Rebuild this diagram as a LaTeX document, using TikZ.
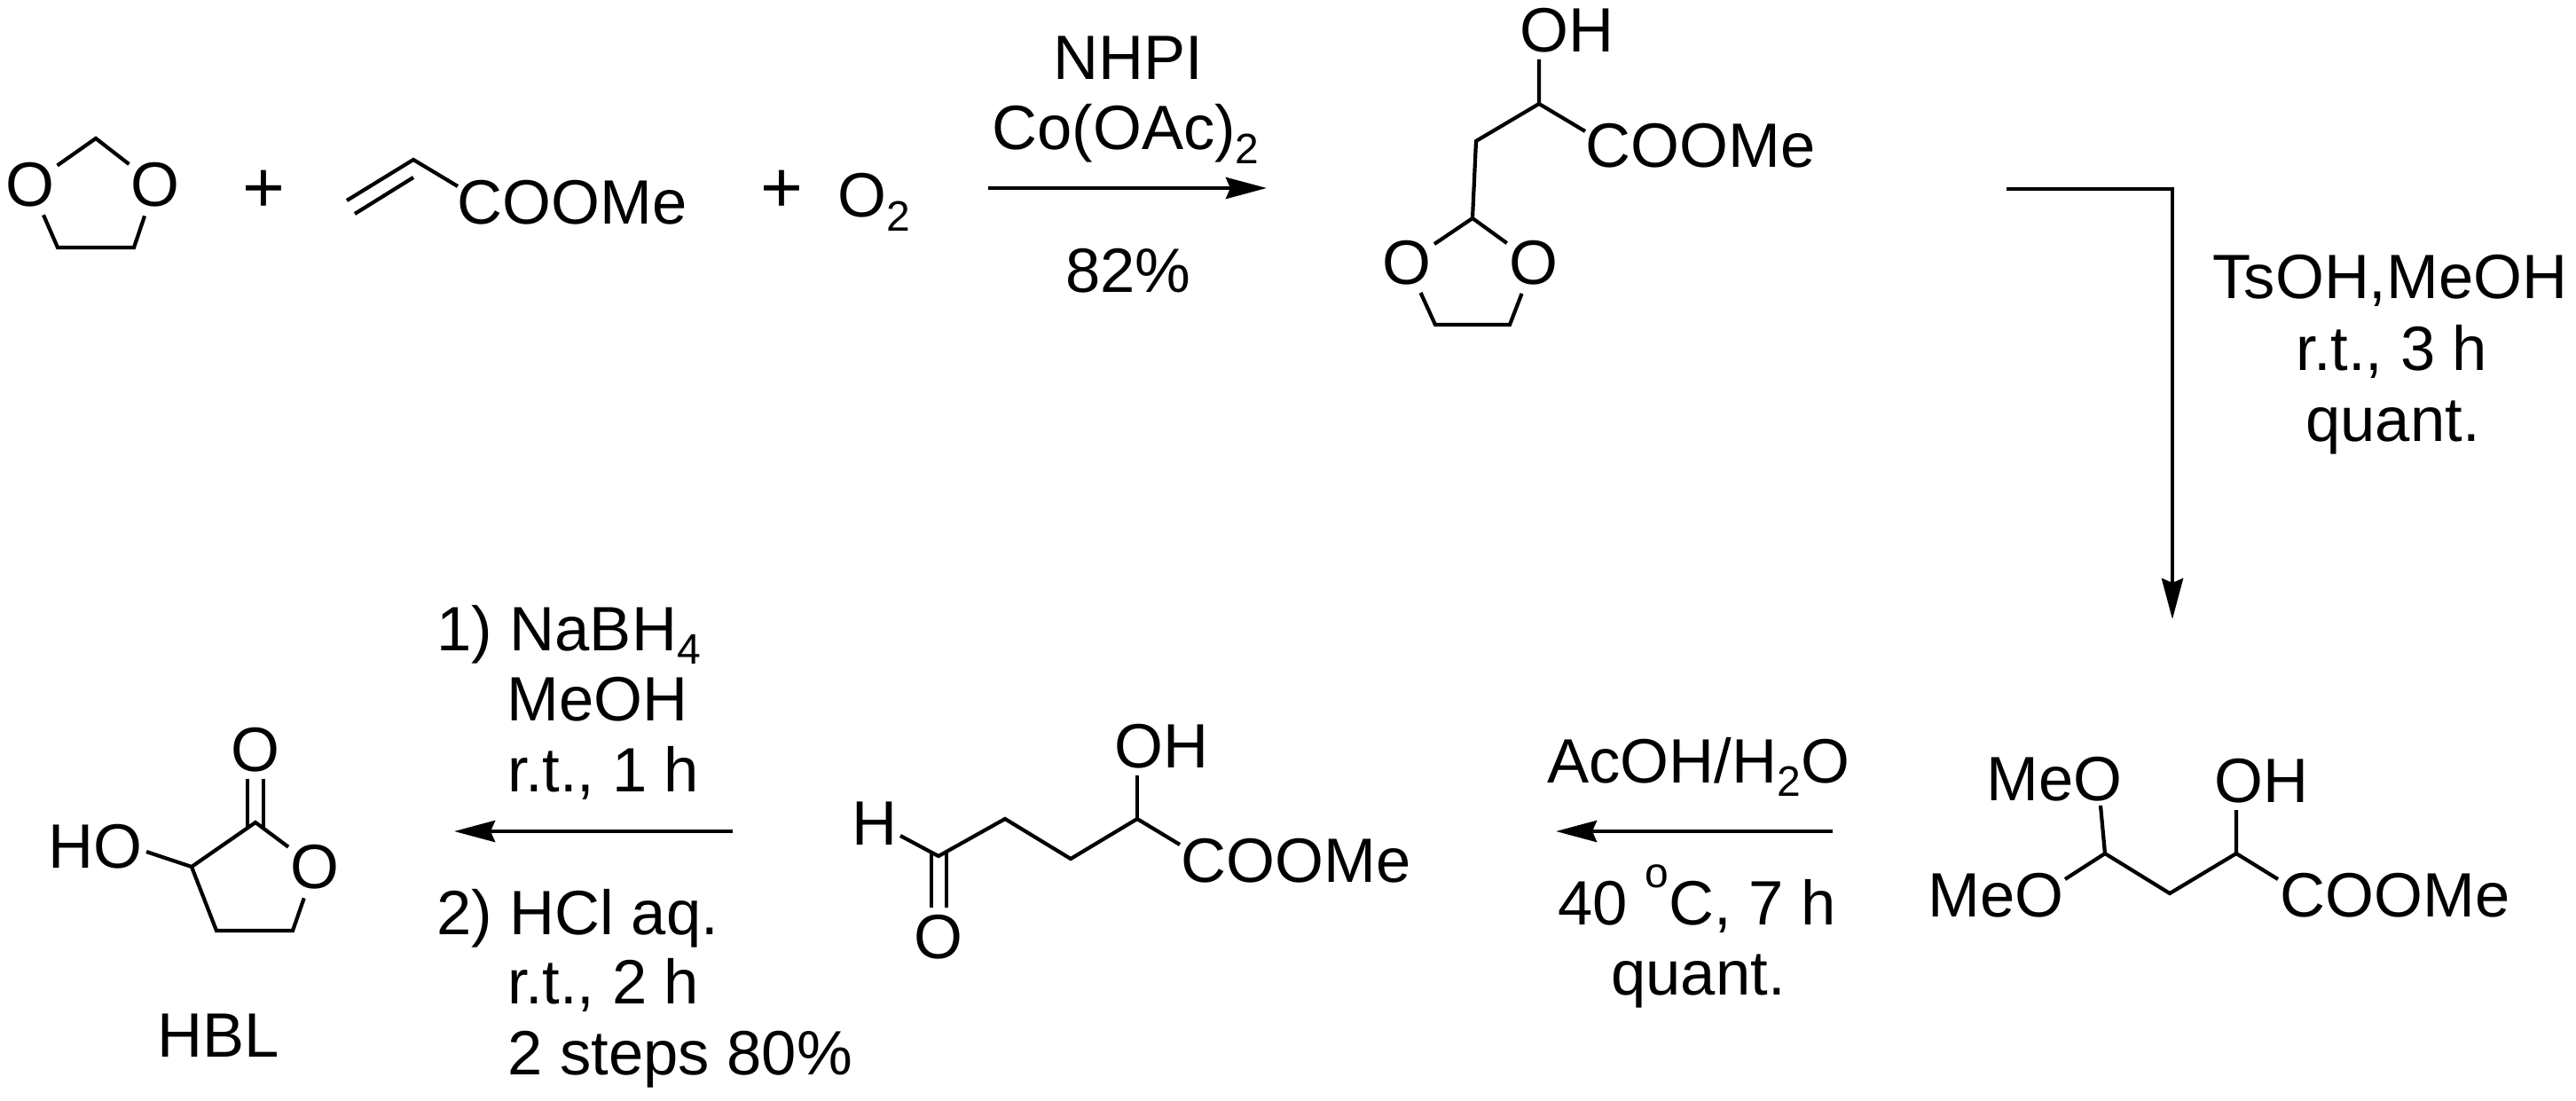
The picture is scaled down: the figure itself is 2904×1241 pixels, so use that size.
\documentclass[tikz,border=0pt]{standalone}
\usepackage{fontspec}
\setmainfont{Liberation Sans}
\usetikzlibrary{arrows.meta}
\newcommand{\lowered}[1]{\raisebox{-0.42ex}{\fontsize{24}{24}\selectfont #1}}
\newcommand{\raised}[1]{\raisebox{1.1ex}{\fontsize{24}{24}\selectfont #1}}
\tikzset{
  chem/.style={inner sep=0pt, anchor=base west, font=\fontsize{35.3}{40}\selectfont},
  atom/.style={circle, inner sep=0pt, font=\fontsize{35.3}{40}\selectfont},
  plus/.style={inner sep=0pt, font=\fontsize{41}{41}\selectfont},
  bond/.style={line width=2.1pt},
  rxn/.style={line width=2.3pt, -{Stealth[length=23pt,width=12pt,inset=2.5pt]}}
}
\begin{document}
\begin{tikzpicture}[x=0.5pt,y=-0.5pt]
  \useasboundingbox (0,0) rectangle (2904,1241);
  % dioxolane + acrylate + oxygen
  \node[atom] (oA) at (34,208) {O};
  \node[atom] (oB) at (175,208) {O};
  \coordinate (a1) at (108,156);
  \coordinate (a2) at (65,279);
  \coordinate (a3) at (151,279);
  \draw[bond] (oA) -- (a1) -- (oB);
  \draw[bond] (oA) -- (a2) -- (a3) -- (oB);
  \node[plus] (plusA) at (297,216) {+};
  \node[chem] (esterA) at (515.5,253) {COOMe};
  \coordinate (b1) at (391,226);
  \coordinate (b2) at (466,180);
  \coordinate (b3) at (516,210);
  \coordinate (b4) at (400,241);
  \coordinate (b5) at (466,200);
  \draw[bond] (b1) -- (b2) -- (b3);
  \draw[bond] (b4) -- (b5);
  \node[plus] (plusB) at (881,216) {+};
  \node[chem] (oxygen) at (944.5,245) {O\lowered{2}};
  % first step
  \coordinate (r1s) at (1114,212);
  \coordinate (r1e) at (1428,212);
  \draw[rxn] (r1s) -- (r1e);
  \node[chem] (nhpi) at (1187,90) {NHPI};
  \node[chem] (coac) at (1118,169) {Co(OAc)\lowered{2}};
  \node[chem] (yieldA) at (1201,330) {82\%};
  % adduct
  \node[chem] (ohB) at (1713,59) {OH};
  \node[chem] (esterB) at (1787,189) {COOMe};
  \node[atom] (oC) at (1586,296) {O};
  \node[atom] (oD) at (1729,296) {O};
  \coordinate (c0) at (1735,67);
  \coordinate (c1) at (1735,117);
  \coordinate (c2) at (1787,148);
  \coordinate (c3) at (1664,159);
  \coordinate (c4) at (1660,246);
  \coordinate (c5) at (1618,366);
  \coordinate (c6) at (1702,366);
  \draw[bond] (c0) -- (c1) -- (c2);
  \draw[bond] (c1) -- (c3) -- (c4);
  \draw[bond] (oC) -- (c4) -- (oD);
  \draw[bond] (oC) -- (c5) -- (c6) -- (oD);
  % second step
  \coordinate (r2s) at (2262,213);
  \coordinate (r2m) at (2449,213);
  \coordinate (r2e) at (2449,698);
  \draw[rxn] (r2s) -- (r2m) -- (r2e);
  \node[chem] (tsoh) at (2494,337) {TsOH,MeOH};
  \node[chem] (condB) at (2588,417) {r.t., 3 h};
  \node[chem] (yieldB) at (2599,497) {quant.};
  % dimethyl acetal
  \node[chem] (meoA) at (2239,902) {MeO};
  \node[chem] (meoB) at (2173,1033) {MeO};
  \node[chem] (ohD) at (2496,904) {OH};
  \node[chem] (esterD) at (2570,1033) {COOMe};
  \coordinate (d0) at (2368,908);
  \coordinate (d1) at (2373,962);
  \coordinate (d2) at (2328,991);
  \coordinate (d3) at (2446,1007);
  \coordinate (d4) at (2521,962);
  \coordinate (d5) at (2521,913);
  \coordinate (d6) at (2568,991);
  \draw[bond] (d0) -- (d1) -- (d2);
  \draw[bond] (d1) -- (d3) -- (d4) -- (d5);
  \draw[bond] (d4) -- (d6);
  % third step
  \coordinate (r3s) at (2066,937);
  \coordinate (r3e) at (1754,937);
  \draw[rxn] (r3s) -- (r3e);
  \node[chem] (acoh) at (1744,882) {AcOH/H\lowered{2}O};
  \node[chem] (condC) at (1756,1042) {40 \raised{o}C, 7 h};
  \node[chem] (yieldC) at (1816,1121) {quant.};
  % aldehyde
  \node[chem] (hE) at (960,952) {H};
  \node[chem] (ohE) at (1256,865) {OH};
  \node[chem] (esterE) at (1331,994) {COOMe};
  \node[atom] (oE) at (1058,1056) {O};
  \coordinate (e0) at (1015,942);
  \coordinate (e1) at (1058,965);
  \coordinate (e2) at (1133,923);
  \coordinate (e3) at (1207,968);
  \coordinate (e4) at (1282,923);
  \coordinate (e5) at (1330,952);
  \coordinate (e6) at (1282,874);
  \coordinate (e7) at (1050,961);
  \coordinate (e8) at (1050,1023);
  \coordinate (e9) at (1067,961);
  \coordinate (e10) at (1067,1023);
  \draw[bond] (e0) -- (e1) -- (e2) -- (e3) -- (e4) -- (e5);
  \draw[bond] (e4) -- (e6);
  \draw[bond] (e7) -- (e8);
  \draw[bond] (e9) -- (e10);
  % fourth step
  \coordinate (r4s) at (826,937);
  \coordinate (r4e) at (512,937);
  \draw[rxn] (r4s) -- (r4e);
  \node[chem] (nabh) at (492,733) {1) NaBH\lowered{4}};
  \node[chem] (meoh) at (571,812) {MeOH};
  \node[chem] (condD) at (572,892) {r.t., 1 h};
  \node[chem] (hcl) at (492,1053) {2) HCl aq.};
  \node[chem] (condE) at (572,1131) {r.t., 2 h};
  \node[chem] (yieldD) at (572,1211) {2 steps 80\%};
  % lactone
  \node[chem] (hoF) at (54,978) {HO};
  \node[atom] (oF) at (288,845) {O};
  \node[atom] (oG) at (355,977) {O};
  \node[chem] (hbl) at (177,1191) {HBL};
  \coordinate (f0) at (165,960);
  \coordinate (f1) at (216,977);
  \coordinate (f2) at (288,927);
  \coordinate (f3) at (330,1049);
  \coordinate (f4) at (244,1049);
  \coordinate (f5) at (279,878);
  \coordinate (f6) at (279,932);
  \coordinate (f7) at (297,878);
  \coordinate (f8) at (297,933);
  \draw[bond] (f0) -- (f1) -- (f2) -- (oG) -- (f3) -- (f4) -- (f1);
  \draw[bond] (f5) -- (f6);
  \draw[bond] (f7) -- (f8);
\end{tikzpicture}
\end{document}
